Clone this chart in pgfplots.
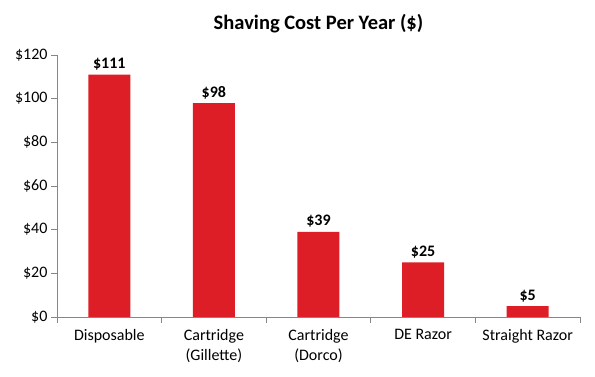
\documentclass[border=0pt]{standalone}
\usepackage{pgfplots}
\pgfplotsset{compat=1.18}
\usepackage{fontspec}
\setmainfont{Carlito}
\definecolor{barred}{RGB}{221,30,38}
\definecolor{axgray}{RGB}{134,134,134}
\begin{document}
\begin{tikzpicture}[x=1pt,y=1pt]
\useasboundingbox (-57,-60) rectangle (538,317);
\begin{axis}[
  at={(0,0)}, anchor=south west,
  scale only axis, width=523pt, height=262pt,
  xmin=0.5, xmax=5.5, ymin=0, ymax=120,
  axis lines*=left,
  axis line style={axgray, line width=0.8pt},
  xtick={1,2,3,4,5},
  xticklabels={Disposable,{Cartridge\\(Gillette)},{Cartridge\\(Dorco)},DE Razor,Straight Razor},
  xticklabel style={align=center, font=\fontsize{16}{20}\selectfont, text=black, yshift=-3pt},
  major x tick style={draw=none},
  minor xtick={0.5,1.5,2.5,3.5,4.5,5.5},
  minor x tick style={axgray, line width=0.8pt},
  minor tick length=6pt,
  ytick={0,20,40,60,80,100,120},
  yticklabels={\$0,\$20,\$40,\$60,\$80,\$100,\$120},
  yticklabel style={font=\fontsize{16}{20}\selectfont, text=black},
  major y tick style={axgray, line width=0.8pt},
  major tick length=6pt,
  tick align=outside,
  tick pos=left,
  title={\bfseries Shaving Cost Per Year (\$)},
  title style={font=\fontsize{20.5}{24}\selectfont, yshift=12pt},
  ybar, bar width=42pt,
  nodes near coords={\bfseries\$\pgfmathprintnumber[assume math mode=true]{\pgfplotspointmeta}},
  nodes near coords style={font=\fontsize{16}{20}\selectfont, text=black, inner sep=4pt},
]
\addplot[fill=barred, draw=none] coordinates {(1,111) (2,98) (3,39) (4,25) (5,5)};
\end{axis}
\end{tikzpicture}
\end{document}
